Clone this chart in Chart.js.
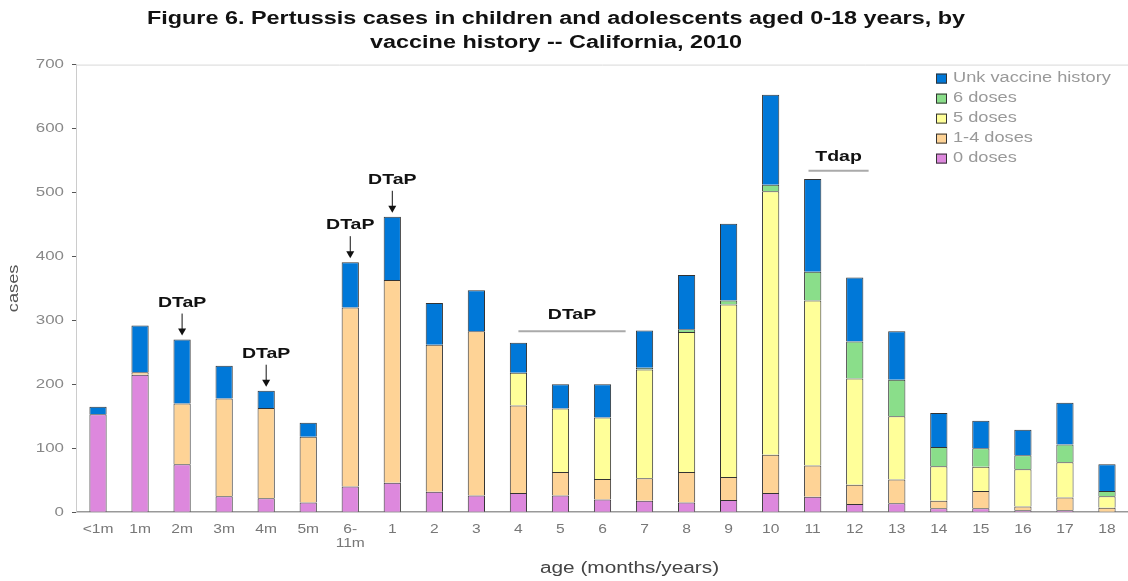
<!DOCTYPE html>
<html>
<head>
<meta charset="utf-8">
<script src="https://cdn.jsdelivr.net/npm/chart.js@4"></script>
<style>
  html, body { margin: 0; padding: 0; background: #fff; }
  #wrap { width: 1128px; height: 581px; }
</style>
</head>
<body>
<div id="wrap"><canvas id="pertussisChart"></canvas></div>
<script>
// age groups (months / years)
const ageLabels = ["<1m", "1m", "2m", "3m", "4m", "5m", ["6-", "11m"], "1", "2", "3", "4", "5", "6",
  "7", "8", "9", "10", "11", "12", "13", "14", "15", "16", "17", "18"];

// cases by vaccine history
const doses0   = [153, 215, 75, 25, 22, 15, 40, 46, 32, 26, 30, 26, 20, 18, 15, 19, 30, 24, 13, 14, 6, 6, 3, 3, 0];
const doses1to4 = [0, 4, 95, 153, 141, 103, 280, 317, 230, 257, 137, 37, 32, 35, 48, 36, 60, 49, 30, 37, 12, 27, 6, 20, 7];
const doses5   = [0, 0, 0, 0, 0, 0, 0, 0, 0, 0, 51, 99, 96, 170, 219, 270, 412, 258, 166, 99, 54, 38, 58, 55, 18];
const doses6   = [0, 0, 0, 0, 0, 0, 0, 0, 0, 0, 0, 0, 0, 3, 4, 6, 10, 45, 58, 57, 30, 29, 22, 28, 8];
const unkHist  = [12, 73, 100, 51, 27, 22, 71, 99, 65, 64, 47, 38, 52, 58, 85, 120, 141, 145, 100, 76, 53, 43, 40, 65, 42];

const yTicks = [0, 100, 200, 300, 400, 500, 600, 700];

const titleLines = ["Figure 6. Pertussis cases in children and adolescents aged 0-18 years, by",
                    "vaccine history -- California, 2010"];
const xTitle = "age (months/years)";

// vaccine recommendation notes drawn over the bars
const arrowNotes = [
  { text: "DTaP", index: 2 },
  { text: "DTaP", index: 4 },
  { text: "DTaP", index: 6 },
  { text: "DTaP", index: 7 }
];
const spanNotes = [
  { text: "DTaP", from: 10, to: 12.55, textY: 308, lineY: 283 },
  { text: "Tdap", from: 16.9, to: 18.33, textY: 555, lineY: 534 }
];

const font = "'Liberation Sans', Arial, sans-serif";

// the original figure's text is drawn wide; stretch all glyphs horizontally
const TEXT_STRETCH = 1.3;
const canvas = document.getElementById("pertussisChart");
const ctx2d = canvas.getContext("2d");
const origFill = ctx2d.fillText.bind(ctx2d);
const origMeasure = ctx2d.measureText.bind(ctx2d);
ctx2d.fillText = function (text, x, y) {
  this.save();
  this.translate(x, y);
  this.scale(TEXT_STRETCH, 1);
  origFill(text, 0, 0);
  this.restore();
};
ctx2d.measureText = function (text) {
  const m = origMeasure(text);
  return {
    width: m.width * TEXT_STRETCH,
    actualBoundingBoxAscent: m.actualBoundingBoxAscent,
    actualBoundingBoxDescent: m.actualBoundingBoxDescent,
    actualBoundingBoxLeft: m.actualBoundingBoxLeft * TEXT_STRETCH,
    actualBoundingBoxRight: m.actualBoundingBoxRight * TEXT_STRETCH
  };
};

const notesPlugin = {
  id: "notes",
  afterDraw(chart) {
    const { ctx, chartArea, scales } = chart;
    const x = scales.x, y = scales.y;
    ctx.save();
    // faint frame line on top of plot
    ctx.strokeStyle = "#d8d8d8";
    ctx.lineWidth = 1;
    ctx.beginPath();
    ctx.moveTo(chartArea.left, chartArea.top + 0.5);
    ctx.lineTo(chartArea.right, chartArea.top + 0.5);
    ctx.stroke();

    ctx.textAlign = "center";
    ctx.textBaseline = "middle";

    // title
    ctx.font = "bold 18px " + font;
    ctx.fillStyle = "#111";
    ctx.fillText(titleLines[0], 556, 19);
    ctx.fillText(titleLines[1], 556, 43);

    // x axis title
    ctx.font = "16px " + font;
    ctx.fillStyle = "#444";
    ctx.fillText(xTitle, (chartArea.left + chartArea.right) / 2 + 27, chartArea.bottom + 56);

    ctx.font = "bold 15px " + font;
    arrowNotes.forEach(n => {
      const total = doses0[n.index] + doses1to4[n.index] + doses5[n.index] + doses6[n.index] + unkHist[n.index];
      const cx = x.getPixelForValue(n.index);
      const top = y.getPixelForValue(total);
      ctx.fillStyle = "#111";
      ctx.fillText(n.text, cx, top - 37);
      ctx.strokeStyle = "#111";
      ctx.lineWidth = 1;
      ctx.beginPath();
      ctx.moveTo(cx, top - 26);
      ctx.lineTo(cx, top - 10);
      ctx.stroke();
      ctx.beginPath();
      ctx.moveTo(cx - 4, top - 11);
      ctx.lineTo(cx + 4, top - 11);
      ctx.lineTo(cx, top - 4);
      ctx.closePath();
      ctx.fill();
    });

    spanNotes.forEach(n => {
      const x1 = x.getPixelForValue(n.from);
      const x2 = x.getPixelForValue(n.to);
      const ly = y.getPixelForValue(n.lineY);
      ctx.fillStyle = "#111";
      ctx.fillText(n.text, (x1 + x2) / 2, y.getPixelForValue(n.textY));
      ctx.strokeStyle = "#aaa";
      ctx.lineWidth = 2;
      ctx.beginPath();
      ctx.moveTo(x1, ly);
      ctx.lineTo(x2, ly);
      ctx.stroke();
    });

    // legend in the upper right, newest series first
    const items = chart.data.datasets.slice().reverse();
    ctx.font = "14px " + font;
    ctx.textAlign = "left";
    let ly = chartArea.top + 14;
    const lx = 936;
    items.forEach(ds => {
      ctx.fillStyle = ds.backgroundColor;
      ctx.fillRect(lx, ly - 5, 11, 10);
      ctx.strokeStyle = "#333";
      ctx.lineWidth = 1;
      ctx.strokeRect(lx + 0.5, ly - 4.5, 10, 9);
      ctx.fillStyle = "#999";
      ctx.fillText(ds.label, lx + 17, ly);
      ly += 20;
    });
    ctx.restore();
  }
};

function series(label, data, color) {
  return {
    label,
    data,
    backgroundColor: color,
    borderColor: "rgba(0,0,0,0.8)",
    borderWidth: 1,
    barPercentage: 0.41,
    categoryPercentage: 1
  };
}

new Chart(canvas, {
  type: "bar",
  data: {
    labels: ageLabels,
    datasets: [
      series("0 doses", doses0, "#DD88DD"),
      series("1-4 doses", doses1to4, "#FED396"),
      series("5 doses", doses5, "#FFFF99"),
      series("6 doses", doses6, "#8ADE8A"),
      series("Unk vaccine history", unkHist, "#0078D8")
    ]
  },
  options: {
    responsive: true,
    maintainAspectRatio: false,
    animation: false,
    layout: { padding: { left: 2, right: 0, top: 0, bottom: 2 } },
    plugins: {
      legend: { display: false },
      tooltip: { enabled: false },
      title: {
        // space holder; the title text itself is painted by notesPlugin
        display: true,
        text: titleLines,
        color: "transparent",
        font: { family: font, size: 17, weight: "bold", lineHeight: 1.4 },
        padding: { top: 6, bottom: 11 }
      }
    },
    scales: {
      x: {
        stacked: true,
        grid: { display: false },
        border: { color: "#999", width: 1.5 },
        ticks: { color: "#777", font: { family: font, size: 12 }, maxRotation: 0, autoSkip: false, padding: 2 },
        title: { display: true, text: xTitle, color: "transparent", font: { family: font, size: 15 }, padding: { top: 8, bottom: 0 } }
      },
      y: {
        stacked: true,
        min: 0,
        max: 700,
        afterBuildTicks(axis) { axis.ticks = yTicks.map(v => ({ value: v })); },
        grid: { drawOnChartArea: false, drawTicks: true, tickLength: 5, color: "#555" },
        border: { color: "#ccc", width: 1 },
        ticks: { color: "#888", font: { family: font, size: 13 }, padding: 8 },
        title: { display: true, text: "cases", color: "#555", font: { family: font, size: 14 }, padding: { bottom: 5 } }
      }
    }
  },
  plugins: [notesPlugin]
});
</script>
</body>
</html>
